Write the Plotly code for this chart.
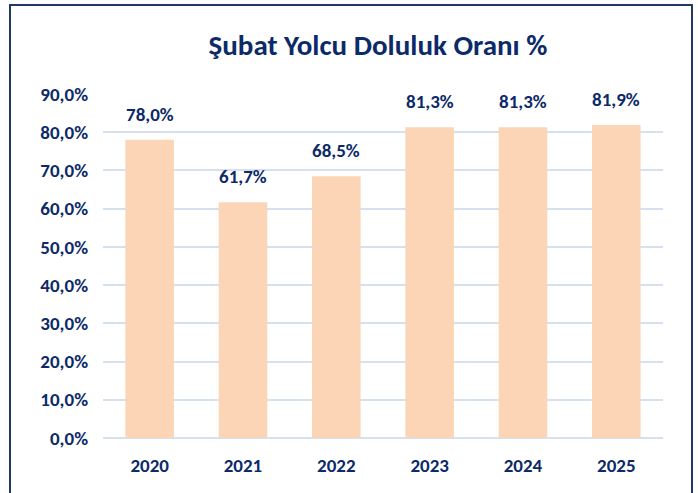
import plotly.graph_objects as go

years = ["2020", "2021", "2022", "2023", "2024", "2025"]
values = [78.0, 61.7, 68.5, 81.3, 81.3, 81.9]
y_ticks = [0, 10, 20, 30, 40, 50, 60, 70, 80, 90]

navy = "#0C2A68"
font_family = "Carlito, Lato, sans-serif"

def fmt(v):
    return f"{v:.1f}".replace(".", ",") + "%"

W, H = 698, 493
ml, mr, mt, mb = 103, 35, 94, 55
pw, ph = W - ml - mr, H - mt - mb

fig = go.Figure()
fig.add_trace(go.Bar(
    x=years, y=values,
    marker=dict(color="#FBD5B5", line=dict(width=0)),
    width=0.52,
    hoverinfo="skip",
))

# annotations on a category axis are positioned by category index
for i, v in enumerate(values):
    fig.add_annotation(x=i, y=v, xref="x", yref="y", text="<b>" + fmt(v) + "</b>",
                       showarrow=False, yanchor="bottom", yshift=12,
                       font=dict(family=font_family, size=19, color=navy))

def px_x(p):
    return (p - ml) / pw

def px_y(p):
    return (H - mb - p) / ph

fig.add_shape(type="rect", xref="paper", yref="paper",
              x0=px_x(10), x1=px_x(692), y0=px_y(510), y1=px_y(5),
              line=dict(color="#1F3864", width=2), fillcolor="rgba(0,0,0,0)",
              layer="above")

fig.update_layout(
    width=W, height=H,
    margin=dict(l=ml, r=mr, t=mt, b=mb),
    paper_bgcolor="white", plot_bgcolor="white",
    showlegend=False,
    title=dict(text="<b>Şubat Yolcu Doluluk Oranı %</b>", x=378 / W, xanchor="center",
               y=1 - 45 / H, yanchor="middle",
               font=dict(family=font_family, size=29, color=navy)),
    xaxis=dict(type="category", categoryorder="array", categoryarray=years,
               range=[-0.5, len(years) - 0.5],
               showgrid=False, showline=False, ticks="",
               tickvals=years, ticktext=["<b>" + y + "</b>" for y in years],
               tickfont=dict(family=font_family, size=19, color=navy),
               ticklabelstandoff=14, automargin=False),
    yaxis=dict(range=[0, 90], tickvals=y_ticks,
               ticktext=["<b>" + fmt(t) + "</b>" for t in y_ticks],
               showgrid=True, gridcolor="#D6E1F0", gridwidth=2,
               zeroline=True, zerolinecolor="#D6E1F0", zerolinewidth=2,
               tickfont=dict(family=font_family, size=19, color=navy),
               ticklabelstandoff=14, automargin=False),
)

fig.write_html(
    "out.html",
    config={"displayModeBar": False},
    post_script="document.body.style.margin='0';document.body.style.overflow='hidden';"
                "document.documentElement.style.overflow='hidden';",
)
